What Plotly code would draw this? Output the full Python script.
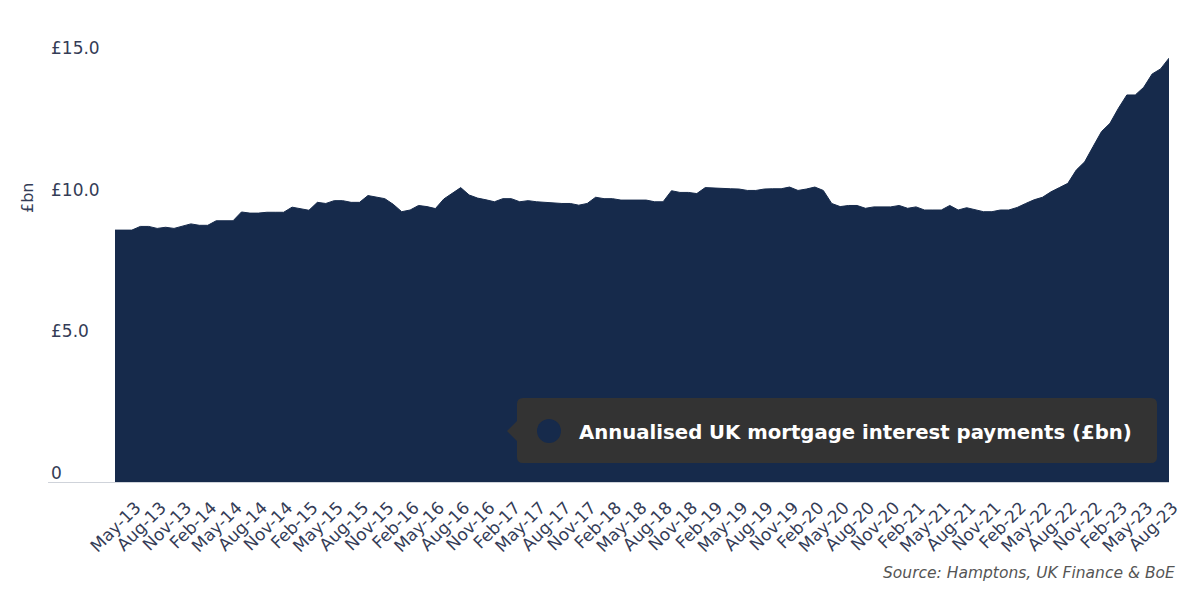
import pandas as pd
import plotly.graph_objects as go

# Monthly data, Mar-13 .. Aug-23 (annualised UK mortgage interest payments, £bn)
values = [
    8.89, 8.89, 8.89, 9.02, 9.02, 8.95, 8.99, 8.95, 9.02, 9.11,
    9.06, 9.06, 9.22, 9.22, 9.22, 9.53, 9.49, 9.49, 9.52, 9.52,
    9.52, 9.70, 9.65, 9.59, 9.87, 9.83, 9.93, 9.93, 9.87, 9.87,
    10.11, 10.06, 10.00, 9.80, 9.54, 9.60, 9.76, 9.72, 9.65, 9.99,
    10.19, 10.39, 10.13, 10.02, 9.96, 9.89, 10.00, 10.00, 9.89, 9.93,
    9.89, 9.87, 9.83, 9.83, 9.83, 9.77, 9.83, 10.05, 10.00, 10.00,
    9.95, 9.95, 9.95, 9.95, 9.89, 9.89, 10.28, 10.22, 10.22, 10.18,
    10.39, 10.37, 10.35, 10.35, 10.34, 10.29, 10.29, 10.34, 10.35, 10.35,
    10.41, 10.29, 10.34, 10.41, 10.29, 9.83, 9.72, 9.76, 9.76, 9.66,
    9.71, 9.71, 9.71, 9.76, 9.66, 9.71, 9.60, 9.60, 9.60, 9.76,
    9.60, 9.68, 9.60, 9.54, 9.54, 9.60, 9.60, 9.69, 9.83, 9.96,
    10.05, 10.24, 10.39, 10.54, 11.01, 11.30, 11.84, 12.37, 12.66, 13.19,
    13.66, 13.66, 13.93, 14.40, 14.58, 14.96,
]
months = pd.date_range("2013-03-01", periods=len(values), freq="MS").strftime("%b-%y").tolist()
tick_idx = list(range(2, len(values), 3))
tick_labels = [months[i] for i in tick_idx]
y_ticks = [0, 5, 10, 15]
y_tick_labels = ["0", "£5.0", "£10.0", "£15.0"]
series_name = "Annualised UK mortgage interest payments (£bn)"
source_text = "Source: Hamptons, UK Finance & BoE"

# page has an 8px body margin; figure sized so it fills the 1200x592 window
OFF = 8
W, H = 1200 - OFF, 592 - OFF
L, R, T, B = 48 - OFF, 31, 57 - OFF, 110
PW, PH = W - L - R, H - T - B

def px(xp):  # page pixel x -> paper
    return (xp - OFF - L) / PW

def py(yp):  # page pixel y -> paper
    return (H - B + OFF - yp) / PH

NAVY = "#162a4b"
TXT = "#343c56"
FONT = "DejaVu Sans"

x = list(range(len(values)))
fig = go.Figure()
fig.add_trace(go.Scatter(
    x=x, y=values, mode="lines", fill="tozeroy",
    line=dict(color=NAVY, width=1), fillcolor=NAVY,
    name=series_name, hoverinfo="skip", showlegend=False,
))

first_px = 115
step = (1169 - first_px) / (len(values) - 1)
x0 = -(first_px - 48) / step

fig.update_layout(
    width=W, height=H,
    margin=dict(l=L, r=R, t=T, b=B),
    paper_bgcolor="white", plot_bgcolor="white",
    font=dict(family=FONT, color=TXT),
    xaxis=dict(
        range=[x0, len(values) - 1],
        tickmode="array", tickvals=tick_idx, ticktext=tick_labels,
        tickangle=-45, tickfont=dict(size=17, color=TXT),
        ticklabelshift=4, ticklabelstandoff=8,
        showgrid=False, zeroline=False,
        showline=True, linecolor="#cfd3da", linewidth=1,
        ticks="", fixedrange=True,
    ),
    yaxis=dict(
        range=[0, 15],
        tickmode="array", tickvals=y_ticks, ticktext=y_tick_labels,
        ticklabelposition="inside", ticklabeloverflow="allow",
        ticklabelshift=-9, ticklabelstandoff=0,
        tickfont=dict(size=17, color=TXT),
        showgrid=False, zeroline=False, showline=False, ticks="",
    ),
    showlegend=False,
)

# y-axis title
fig.add_annotation(
    text="£bn", xref="paper", yref="paper", x=px(27), y=py(198),
    textangle=-90, showarrow=False, xanchor="center", yanchor="middle",
    font=dict(size=16, color=TXT, family=FONT),
)

# Source
fig.add_annotation(
    text="<i>" + source_text + "</i>", xref="paper", yref="paper",
    x=px(1177), y=py(573), showarrow=False, xanchor="right", yanchor="middle",
    font=dict(size=15.5, color="#555555", family=FONT),
)

# Legend box (tooltip-like)
bx0, bx1, by0, by1, r = 517, 1157, 398, 463, 6
rx, ry = r / PW, r / PH
X0, X1, Y0, Y1 = px(bx0), px(bx1), py(by1), py(by0)
path = (
    f"M {X0+rx},{Y0} L {X1-rx},{Y0} Q {X1},{Y0} {X1},{Y0+ry} "
    f"L {X1},{Y1-ry} Q {X1},{Y1} {X1-rx},{Y1} "
    f"L {X0+rx},{Y1} Q {X0},{Y1} {X0},{Y1-ry} "
    f"L {X0},{py(421)} L {px(507)},{py(431)} L {X0},{py(441)} "
    f"L {X0},{Y0+ry} Q {X0},{Y0} {X0+rx},{Y0} Z"
)
fig.add_shape(type="path", xref="paper", yref="paper", path=path,
              fillcolor="#333333", line=dict(width=0), layer="above")
fig.add_shape(type="circle", xref="paper", yref="paper",
              x0=px(537), x1=px(561), y0=py(443), y1=py(419),
              fillcolor=NAVY, line=dict(width=0), layer="above")
fig.add_annotation(
    text="<b>" + series_name + "</b>", xref="paper", yref="paper",
    x=px(577), y=py(432), showarrow=False, xanchor="left", yanchor="middle",
    font=dict(size=19.7, color="white", family=FONT),
)

fig.write_html("out.html")
